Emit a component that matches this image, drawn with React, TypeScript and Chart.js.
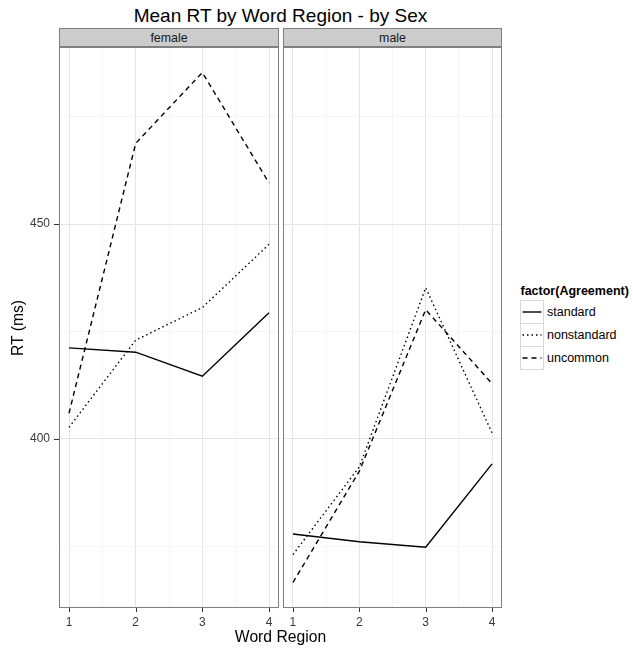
import React, { useEffect, useRef } from 'react';
import { Chart, registerables } from 'chart.js';

Chart.register(...registerables);

// ---- data ----
const regions = [1, 2, 3, 4];
const agreementLevels = ['standard', 'nonstandard', 'uncommon'];
const sexes = ['female', 'male'];

const femaleStandard = [421.2, 420.2, 414.6, 429.4];
const femaleNonstandard = [402.7, 423.0, 430.6, 445.3];
const femaleUncommon = [406.0, 468.8, 485.3, 459.6];

const maleStandard = [377.9, 376.1, 374.8, 394.2];
const maleNonstandard = [373.1, 393.5, 435.2, 401.4];
const maleUncommon = [366.6, 392.5, 430.1, 412.9];

const yTickValues = [375, 400, 425, 450, 475];
const yLabelValues = [400, 450];
const xTickValues = [1, 1.5, 2, 2.5, 3, 3.5, 4];
const xLabelValues = [1, 2, 3, 4];

// ---- styling ----
const FONT = '"Liberation Sans", Arial, Helvetica, sans-serif';
const DASHES: number[][] = [[], [1.5, 3], [5, 4]];
const LINE_W = 1.4;
const MAJOR_GRID = '#e5e5e5';
const MINOR_GRID = '#f5f5f5';
const TICK_TEXT = '#3a3a3a';
const TICK_MARK = '#333333';

const allValues = [
  ...femaleStandard, ...femaleNonstandard, ...femaleUncommon,
  ...maleStandard, ...maleNonstandard, ...maleUncommon,
];
const dMin = Math.min(...allValues);
const dMax = Math.max(...allValues);
const yMin = dMin - 0.05 * (dMax - dMin);
const yMax = dMax + 0.05 * (dMax - dMin);
const xMin = regions[0] - 0.05 * (regions[regions.length - 1] - regions[0]);
const xMax = regions[regions.length - 1] + 0.05 * (regions[regions.length - 1] - regions[0]);

function makeBorderPlugin(showY: boolean) {
  return {
    id: 'panelBorder',
    afterDraw(chart: any) {
      const { ctx, chartArea: a, scales } = chart;
      ctx.save();
      ctx.strokeStyle = TICK_MARK;
      ctx.lineWidth = 1;
      ctx.beginPath();
      xLabelValues.forEach((v) => {
        const px = Math.round(scales.x.getPixelForValue(v)) + 0.5;
        ctx.moveTo(px, a.bottom);
        ctx.lineTo(px, a.bottom + 4);
      });
      if (showY) {
        yLabelValues.forEach((v) => {
          const py = Math.round(scales.y.getPixelForValue(v)) + 0.5;
          ctx.moveTo(a.left - 5, py);
          ctx.lineTo(a.left, py);
        });
      }
      ctx.stroke();
      ctx.strokeStyle = '#7f7f7f';
      ctx.strokeRect(a.left + 0.5, a.top + 0.5, a.right - a.left - 1, a.bottom - a.top - 1);
      ctx.restore();
    },
  };
}

function Panel({ series, left, width, showY }: { series: number[][]; left: number; width: number; showY: boolean }) {
  const ref = useRef<HTMLCanvasElement | null>(null);
  useEffect(() => {
    if (!ref.current) return;
    const chart = new Chart(ref.current, {
      type: 'line',
      data: {
        datasets: series.map((vals, i) => ({
          label: agreementLevels[i],
          data: regions.map((r, j) => ({ x: r, y: vals[j] })),
          borderColor: '#000000',
          borderWidth: LINE_W,
          borderDash: DASHES[i],
          pointRadius: 0,
          fill: false,
          tension: 0,
        })),
      },
      options: {
        animation: false,
        responsive: false,
        maintainAspectRatio: false,
        events: [],
        layout: { padding: { top: 47, right: 1, left: 0, bottom: 0 } },
        plugins: { legend: { display: false }, tooltip: { enabled: false }, title: { display: false } },
        scales: {
          x: {
            type: 'linear',
            min: xMin,
            max: xMax,
            afterBuildTicks: (s: any) => { s.ticks = xTickValues.map((v) => ({ value: v })); },
            afterFit: (s: any) => { s.height = 41; },
            border: { display: false },
            grid: {
              color: (c: any) => (xLabelValues.includes(c.tick?.value) ? MAJOR_GRID : MINOR_GRID),
              tickColor: 'rgba(0,0,0,0)',
              tickLength: 4,
              lineWidth: 1,
            },
            ticks: {
              autoSkip: false,
              maxRotation: 0,
              minRotation: 0,
              padding: 3,
              color: TICK_TEXT,
              font: { family: FONT, size: 12 },
              callback: (v: any) => (xLabelValues.includes(Number(v)) ? String(v) : ''),
            },
          },
          y: {
            type: 'linear',
            min: yMin,
            max: yMax,
            afterBuildTicks: (s: any) => { s.ticks = yTickValues.map((v) => ({ value: v })); },
            afterFit: (s: any) => { s.width = showY ? 59 : 0; },
            border: { display: false },
            grid: {
              color: (c: any) => (yLabelValues.includes(c.tick?.value) ? MAJOR_GRID : MINOR_GRID),
              tickColor: 'rgba(0,0,0,0)',
              drawTicks: showY,
              tickLength: 5,
              lineWidth: 1,
            },
            ticks: {
              display: showY,
              autoSkip: false,
              padding: 4,
              color: TICK_TEXT,
              font: { family: FONT, size: 12 },
              callback: (v: any) => (yLabelValues.includes(Number(v)) ? String(v) : ''),
            },
          },
        },
      } as any,
      plugins: [makeBorderPlugin(showY)],
    });
    return () => chart.destroy();
  }, []);
  return (
    <canvas
      ref={ref}
      width={width}
      height={649}
      style={{ position: 'absolute', left, top: 0, width, height: 649 }}
    />
  );
}

function Strip({ label, left, width }: { label: string; left: number; width: number }) {
  return (
    <div
      style={{
        position: 'absolute', left, top: 28, width, height: 19, boxSizing: 'border-box',
        background: '#cccccc', border: '1px solid #7f7f7f', color: '#1a1a1a',
        fontFamily: FONT, fontSize: 12.4, display: 'flex', alignItems: 'center', justifyContent: 'center',
        lineHeight: '12px',
      }}
    >
      {label}
    </div>
  );
}

function LegendKey({ dash, top, label }: { dash: number[]; top: number; label: string }) {
  return (
    <>
      <div
        style={{
          position: 'absolute', left: 520, top, width: 24, height: 24, boxSizing: 'border-box',
          border: '1px solid #d9d9d9', background: '#ffffff',
        }}
      >
        <svg width={22} height={22} style={{ position: 'absolute', left: 0, top: 0 }}>
          <line x1={1.5} y1={11} x2={20.5} y2={11} stroke="#000" strokeWidth={LINE_W}
            strokeDasharray={dash.length ? dash.join(' ') : undefined} />
        </svg>
      </div>
      <div
        style={{
          position: 'absolute', left: 547, top: top + 12 - 7, height: 14, lineHeight: '14px',
          fontFamily: FONT, fontSize: 12.5, color: '#000', whiteSpace: 'nowrap',
        }}
      >
        {label}
      </div>
    </>
  );
}

export default function App() {
  return (
    <div style={{ position: 'absolute', left: 0, top: 0, width: 633, height: 649, background: '#fff', overflow: 'hidden' }}>
      <div
        style={{
          position: 'absolute', left: 0, width: 561, top: 6, textAlign: 'center', fontFamily: FONT,
          fontSize: 19, lineHeight: '19px', color: '#000', whiteSpace: 'nowrap',
        }}
      >
        Mean RT by Word Region - by Sex
      </div>
      <Panel series={[femaleStandard, femaleNonstandard, femaleUncommon]} left={0} width={280} showY={true} />
      <Panel series={[maleStandard, maleNonstandard, maleUncommon]} left={283} width={220} showY={false} />
      <Strip label={sexes[0]} left={59} width={220} />
      <Strip label={sexes[1]} left={283} width={219} />
      <div
        style={{
          position: 'absolute', left: 0, width: 561, top: 629, textAlign: 'center', fontFamily: FONT,
          fontSize: 15.7, lineHeight: '16px', color: '#000', whiteSpace: 'nowrap',
        }}
      >
        Word Region
      </div>
      <div
        style={{
          position: 'absolute', left: 18 - 40, top: 327.5 - 8, width: 80, height: 16, textAlign: 'center',
          fontFamily: FONT, fontSize: 15.7, lineHeight: '16px', color: '#000', whiteSpace: 'nowrap',
          transform: 'rotate(-90deg)', transformOrigin: '50% 50%',
        }}
      >
        RT (ms)
      </div>
      <div
        style={{
          position: 'absolute', left: 520.5, top: 285, lineHeight: '13px', fontFamily: FONT, fontSize: 12.5,
          fontWeight: 'bold', color: '#000', whiteSpace: 'nowrap',
        }}
      >
        factor(Agreement)
      </div>
      {agreementLevels.map((lab, i) => (
        <LegendKey key={lab} dash={DASHES[i]} top={300 + i * 23} label={lab} />
      ))}
    </div>
  );
}
